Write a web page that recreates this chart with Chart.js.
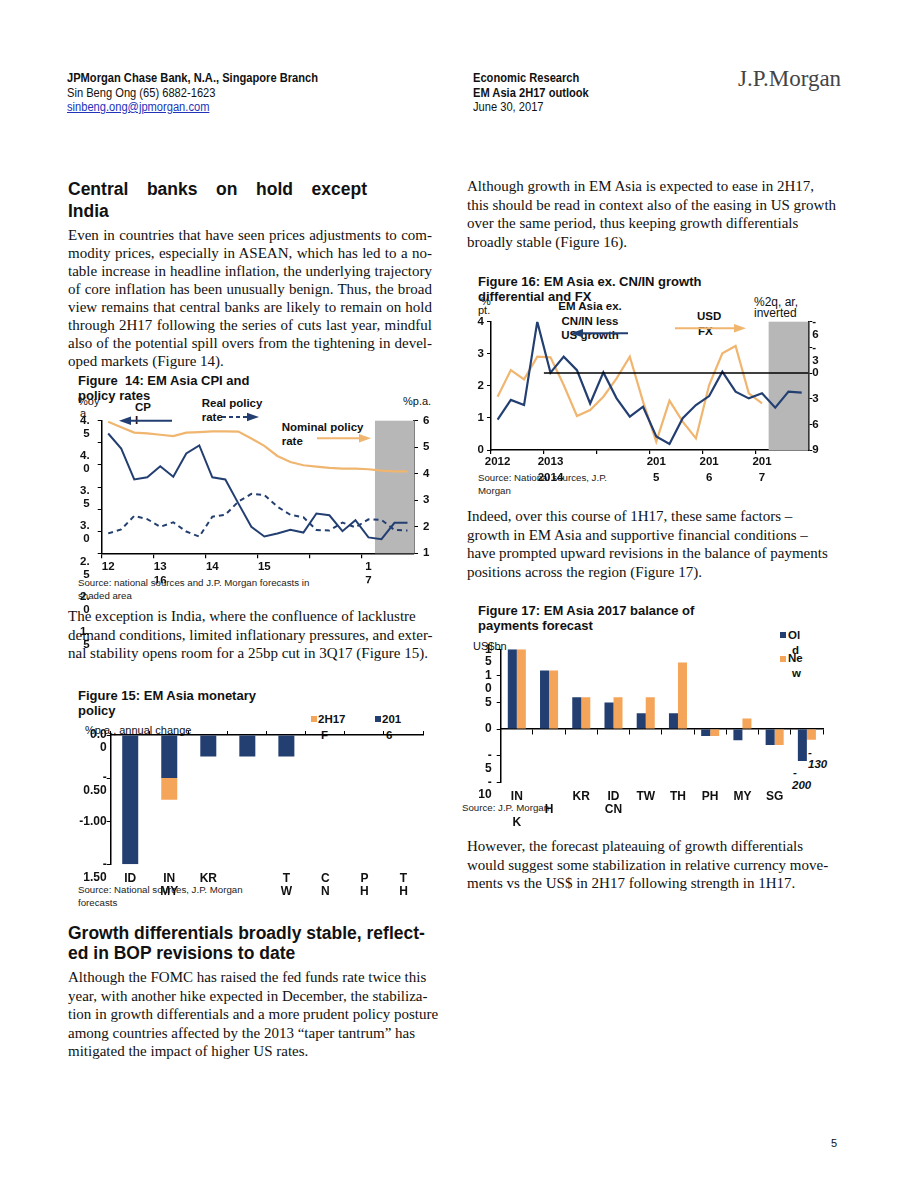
<!DOCTYPE html>
<html><head><meta charset="utf-8">
<script src="https://cdn.jsdelivr.net/npm/chart.js@4.4.1/dist/chart.umd.min.js"></script>
<style>
html,body{margin:0;padding:0;background:#fff;}
body{width:920px;height:1191px;position:relative;overflow:hidden;color:#111;}
.t{position:absolute;white-space:nowrap;}
.hd{font-family:"Liberation Sans",Arial,sans-serif;font-size:12.5px;line-height:14px;transform:scaleX(0.89);transform-origin:0 0;}
.b{font-weight:bold;}
.serif{font-family:"Liberation Serif","Times New Roman",serif;font-size:15px;line-height:18px;}
.j{text-align:justify;text-align-last:justify;width:364px;}
.h{font-family:"Liberation Sans",Arial,sans-serif;font-weight:bold;font-size:17.5px;line-height:20px;}
.ft{font-family:"Liberation Sans",Arial,sans-serif;font-weight:bold;font-size:13px;line-height:15px;}
.src{font-family:"Liberation Sans",Arial,sans-serif;font-size:9.7px;line-height:12px;color:#222;}
.lb{font-family:"Liberation Sans",Arial,sans-serif;font-weight:bold;font-size:11.5px;line-height:13px;}
.sm{font-family:"Liberation Sans",Arial,sans-serif;font-size:11px;line-height:13px;}
.sq{position:absolute;width:6px;height:6px;}
canvas{position:absolute;}
</style></head><body>

<!-- header -->
<div class="t hd b" style="left:67px;top:71px;">JPMorgan Chase Bank, N.A., Singapore Branch</div>
<div class="t hd" style="left:67px;top:86px;">Sin Beng Ong (65) 6882-1623</div>
<div class="t hd" style="left:67px;top:100px;color:#2233bb;text-decoration:underline;">sinbeng.ong@jpmorgan.com</div>
<div class="t hd b" style="left:473px;top:71px;">Economic Research</div>
<div class="t hd b" style="left:473px;top:86px;">EM Asia 2H17 outlook</div>
<div class="t hd" style="left:473px;top:100px;">June 30, 2017</div>
<div class="t" style="left:738px;top:66px;font-family:'Liberation Serif',serif;font-size:23px;line-height:26px;color:#444;">J.P.Morgan</div>

<!-- left column -->
<div class="t h" style="left:68px;top:178.5px;width:299px;text-align:justify;text-align-last:justify;">Central banks on hold except</div>
<div class="t h" style="left:68px;top:200.5px;">India</div>
<div class="t serif j" style="left:68px;top:226px;">Even in countries that have seen prices adjustments to com-</div>
<div class="t serif j" style="left:68px;top:244px;">modity prices, especially in ASEAN, which has led to a no-</div>
<div class="t serif j" style="left:68px;top:262px;">table increase in headline inflation, the underlying trajectory</div>
<div class="t serif j" style="left:68px;top:280px;">of core inflation has been unusually benign. Thus, the broad</div>
<div class="t serif j" style="left:68px;top:298px;">view remains that central banks are likely to remain on hold</div>
<div class="t serif j" style="left:68px;top:316px;">through 2H17 following the series of cuts last year, mindful</div>
<div class="t serif j" style="left:68px;top:334px;">also of the potential spill overs from the tightening in devel-</div>
<div class="t serif" style="left:68px;top:352px;">oped markets (Figure 14).</div>

<div class="t ft" style="left:78px;top:373px;">Figure&nbsp; 14: EM Asia CPI and</div>
<div class="t ft" style="left:78px;top:388px;">policy rates</div>
<div class="t sm" style="left:78px;top:395px;">%oy</div>
<div class="t sm" style="left:80px;top:407px;">a</div>
<div class="t lb" style="left:135px;top:400.5px;">CP</div>
<div class="t lb" style="left:135px;top:413.5px;">I</div>
<div class="t lb" style="left:201.7px;top:396.5px;">Real policy</div>
<div class="t lb" style="left:201.7px;top:410.5px;">rate</div>
<div class="t lb" style="left:281.7px;top:420.5px;">Nominal policy</div>
<div class="t lb" style="left:281.7px;top:434.5px;">rate</div>
<div class="t sm" style="left:403px;top:394.5px;">%p.a.</div>
<div class="t src" style="left:78px;top:576.5px;">Source: national sources and J.P. Morgan forecasts in</div>
<div class="t src" style="left:78px;top:589.5px;">shaded area</div>

<div class="t serif" style="left:68px;top:607px;">The exception is India, where the confluence of lacklustre</div>
<div class="t serif" style="left:68px;top:625.5px;">demand conditions, limited inflationary pressures, and exter-</div>
<div class="t serif" style="left:68px;top:644px;">nal stability opens room for a 25bp cut in 3Q17 (Figure 15).</div>

<div class="t ft" style="left:78px;top:688px;">Figure 15: EM Asia monetary</div>
<div class="t ft" style="left:78px;top:703px;">policy</div>
<div class="t sm" style="left:85px;top:723.5px;">%p.a., annual change</div>
<div class="sq" style="left:311px;top:716px;background:#f4a55a;"></div>
<div class="t lb" style="left:318px;top:712.5px;">2H17</div>
<div class="t lb" style="left:321px;top:728.5px;">F</div>
<div class="sq" style="left:375px;top:716px;background:#233f72;"></div>
<div class="t lb" style="left:382px;top:712.5px;">201</div>
<div class="t lb" style="left:386px;top:728.5px;">6</div>
<div class="t src" style="left:78px;top:883.5px;">Source: National sources, J.P. Morgan</div>
<div class="t src" style="left:78px;top:896.5px;">forecasts</div>

<div class="t h" style="left:68px;top:922.5px;">Growth differentials broadly stable, reflect-</div>
<div class="t h" style="left:68px;top:942.5px;">ed in BOP revisions to date</div>
<div class="t serif" style="left:68px;top:968px;">Although the FOMC has raised the fed funds rate twice this</div>
<div class="t serif" style="left:68px;top:986.5px;">year, with another hike expected in December, the stabiliza-</div>
<div class="t serif" style="left:68px;top:1005px;">tion in growth differentials and a more prudent policy posture</div>
<div class="t serif" style="left:68px;top:1023.5px;">among countries affected by the 2013 “taper tantrum” has</div>
<div class="t serif" style="left:68px;top:1042px;">mitigated the impact of higher US rates.</div>

<!-- right column -->
<div class="t serif" style="left:467px;top:177px;">Although growth in EM Asia is expected to ease in 2H17,</div>
<div class="t serif" style="left:467px;top:195.5px;">this should be read in context also of the easing in US growth</div>
<div class="t serif" style="left:467px;top:214px;">over the same period, thus keeping growth differentials</div>
<div class="t serif" style="left:467px;top:232.5px;">broadly stable (Figure 16).</div>

<div class="t ft" style="left:478px;top:274px;">Figure 16: EM Asia ex. CN/IN growth</div>
<div class="t ft" style="left:478px;top:289px;">differential and FX</div>
<div class="t sm" style="left:481px;top:294.5px;">%</div>
<div class="t sm" style="left:478px;top:304px;">pt.</div>
<div class="t lb" style="left:540px;top:299.5px;width:100px;text-align:center;">EM Asia ex.</div>
<div class="t lb" style="left:540px;top:315px;width:100px;text-align:center;">CN/IN less</div>
<div class="t lb" style="left:540px;top:328.5px;width:100px;text-align:center;">US growth</div>
<div class="t lb" style="left:697px;top:310px;">USD</div>
<div class="t lb" style="left:698px;top:325px;">FX</div>
<div class="t" style="left:754px;top:294.7px;font-family:'Liberation Sans',Arial,sans-serif;font-size:12px;line-height:14px;">%2q, ar,</div>
<div class="t" style="left:754px;top:306px;font-family:'Liberation Sans',Arial,sans-serif;font-size:12px;line-height:14px;">inverted</div>
<div class="t src" style="left:478px;top:471.5px;">Source: National sources, J.P.</div>
<div class="t src" style="left:478px;top:484.5px;">Morgan</div>

<div class="t serif" style="left:467px;top:507px;">Indeed, over this course of 1H17, these same factors –</div>
<div class="t serif" style="left:467px;top:525.5px;">growth in EM Asia and supportive financial conditions –</div>
<div class="t serif" style="left:467px;top:544px;">have prompted upward revisions in the balance of payments</div>
<div class="t serif" style="left:467px;top:562.5px;">positions across the region (Figure 17).</div>

<div class="t ft" style="left:478px;top:603px;">Figure 17: EM Asia 2017 balance of</div>
<div class="t ft" style="left:478px;top:618px;">payments forecast</div>
<div class="t sm" style="left:473px;top:639.5px;">US$bn</div>
<div class="sq" style="left:780px;top:632px;background:#233f72;"></div>
<div class="t lb" style="left:788px;top:628.5px;">Ol</div>
<div class="t lb" style="left:792px;top:643.5px;">d</div>
<div class="sq" style="left:780px;top:656px;background:#f4a55a;"></div>
<div class="t lb" style="left:788px;top:651.5px;">Ne</div>
<div class="t lb" style="left:792px;top:666.5px;">w</div>
<div class="t lb" style="left:808px;top:745.5px;font-style:italic;">-</div>
<div class="t lb" style="left:808px;top:757.5px;font-style:italic;">130</div>
<div class="t lb" style="left:793px;top:765.5px;font-style:italic;">-</div>
<div class="t lb" style="left:792px;top:778.5px;font-style:italic;">200</div>
<div class="t src" style="left:462px;top:801.5px;">Source: J.P. Morgan</div>

<div class="t serif" style="left:467px;top:837px;">However, the forecast plateauing of growth differentials</div>
<div class="t serif" style="left:467px;top:855.5px;">would suggest some stabilization in relative currency move-</div>
<div class="t serif" style="left:467px;top:874px;">ments vs the US$ in 2H17 following strength in 1H17.</div>

<div class="t sm" style="left:831px;top:1136.5px;">5</div>

<canvas id="c14" width="370" height="250" style="left:70px;top:400px;width:370px;height:250px;"></canvas>
<canvas id="c15" width="360" height="180" style="left:70px;top:725px;width:360px;height:180px;"></canvas>
<canvas id="c16" width="375" height="200" style="left:465px;top:300px;width:375px;height:200px;"></canvas>
<canvas id="c17" width="370" height="200" style="left:460px;top:640px;width:370px;height:200px;"></canvas>

<svg width="920" height="1191" style="position:absolute;left:0;top:0;pointer-events:none;">
  <line x1="128" y1="420.7" x2="172" y2="420.7" stroke="#233f72" stroke-width="2"/>
  <polygon points="119,420.7 131,416.5 131,424.9" fill="#233f72"/>
  <line x1="222" y1="417" x2="249" y2="417" stroke="#233f72" stroke-width="2" stroke-dasharray="4 3"/>
  <polygon points="259,417 247,412.8 247,421.2" fill="#233f72"/>
  <line x1="317" y1="438.3" x2="360" y2="438.3" stroke="#f0b56f" stroke-width="2"/>
  <polygon points="371,438.3 359,434 359,442.6" fill="#f0b56f"/>
  <line x1="580" y1="333.3" x2="628" y2="333.3" stroke="#233f72" stroke-width="2"/>
  <polygon points="571,333.3 583,329 583,337.6" fill="#233f72"/>
  <line x1="675" y1="328.3" x2="735" y2="328.3" stroke="#f0b56f" stroke-width="2"/>
  <polygon points="746,328.3 734,324 734,332.6" fill="#f0b56f"/>
</svg>

<script>
// ---------- data ----------
const quarters = ['1Q12','2Q12','3Q12','4Q12','1Q13','2Q13','3Q13','4Q13','1Q14','2Q14','3Q14','4Q14',
                  '1Q15','2Q15','3Q15','4Q15','1Q16','2Q16','3Q16','4Q16','1Q17','2Q17','3Q17','4Q17'];

// Figure 14
const f14XTicks = ['12','','','',['13','16'],'','','','14','','','','15','','','','','','','',['1','7'],'','',''];
const f14LeftTicks = [['4.','5'],['4.','0'],['3.','5'],['3.','0'],['2.','5'],['2.','0'],['1.','5']];
const f14Cpi = [4.21,3.87,3.17,3.22,3.47,3.23,3.76,3.94,3.22,3.17,2.63,2.10,1.88,1.95,2.03,1.97,2.40,2.36,2.00,2.25,1.86,1.82,2.19,2.19];
const f14Real = [1.75,1.90,2.41,2.29,2.00,2.17,1.82,1.63,2.38,2.45,2.95,3.24,3.20,2.76,2.45,2.36,1.88,1.86,2.16,1.98,2.28,2.26,1.88,1.86];
const f14Nominal = [5.96,5.75,5.55,5.52,5.47,5.42,5.55,5.57,5.60,5.60,5.59,5.33,5.05,4.67,4.44,4.32,4.27,4.22,4.19,4.19,4.17,4.12,4.09,4.09];
const f14ForecastFrom = '2Q17';

// Figure 15
const f15Labels = ['ID',['IN','MY'],'KR','',['T','W'],['C','N'],['P','H'],['T','H']];
const f15Y2016 = [-1.50,-0.50,-0.25,-0.25,-0.25,0,0,0];
const f15H2H17F = [0,-0.25,0,0,0,0,0,0];
const f15YTicks = [['0.0','0'],['-','0.50'],['-1.00',''],['-','1.50']];

// Figure 16
const f16XTicks = ['2012','','','',['2013','2014'],'','','','','','','',['201','5'],'','','',['201','6'],'','','',['201','7'],'','',''];
const f16Growth = [0.95,1.56,1.40,4.00,2.41,2.91,2.49,1.45,2.42,1.61,1.04,1.35,0.42,0.19,0.99,1.40,1.68,2.44,1.82,1.61,1.77,1.32,1.82,1.79];
const f16Fx = [2.77,-0.35,0.74,-1.91,-1.83,1.40,5.03,4.32,2.77,0.62,-1.91,3.35,8.03,3.23,5.69,7.64,1.40,-2.30,-3.16,2.38,3.55,null,null,null];
const f16RightValues = [-6,-3,0,3,6,9];
const f16RightTicks = [['-','6'],['-','3'],['0',''],['3',''],['6',''],['9','']];
const f16ForecastFrom = '2Q17';
const f16ZeroFrom = '1Q13';

// Figure 17
const f17Labels = [['IN','','K'],['','H'],'KR',['ID','CN'],'TW','TH','PH','MY','SG',''];
const f17Old = [15,11,6,5,3,3,-1.3,-2.1,-3,-6];
const f17New = [15,11,6,6,6,12.5,-1.3,2,-3,-2];
const f17YValues = [-10,-5,0,5,10,15];
const f17YTicks = [['-','10'],['-','5'],['0',''],['5',''],['1','0'],['1','5']];

// ---------- style ----------
const navy = '#233f72', orange = '#f4a55a', tan = '#f0b56f', shade = '#b7b7b7';
const FONT = '"Liberation Sans", Arial, sans-serif';
Chart.defaults.font.family = FONT;
Chart.defaults.color = '#111';
Chart.defaults.animation = false;

const fixSize = (size) => (s) => {
  if (s.isHorizontal()) s.height = size; else s.width = size;
  s.paddingTop = 0; s.paddingBottom = 0; s.paddingLeft = 0; s.paddingRight = 0;
};
const yearTick = (c) => (c.index % 4 === 0 ? '#000' : 'rgba(0,0,0,0)');

const shadePlugin = {
  id: 'shade',
  beforeDatasetsDraw(chart, args, opts) {
    if (!opts || opts.from === undefined) return;
    const x = chart.scales.x, ca = chart.chartArea, ctx = chart.ctx;
    const idx = chart.data.labels.indexOf(opts.from);
    const left = x.getPixelForValue(idx - 0.5);
    ctx.save();
    ctx.fillStyle = opts.color;
    ctx.fillRect(left, ca.top, ca.right - left, ca.bottom - ca.top);
    ctx.restore();
  }
};

const refLinePlugin = {
  id: 'refLine',
  afterDatasetsDraw(chart, args, opts) {
    if (!opts || opts.from === undefined) return;
    const x = chart.scales.x, y = chart.scales[opts.axis], ca = chart.chartArea, ctx = chart.ctx;
    const idx = chart.data.labels.indexOf(opts.from);
    const left = x.getPixelForValue(idx - 0.5);
    const py = y.getPixelForValue(opts.value);
    ctx.save();
    ctx.strokeStyle = '#000'; ctx.lineWidth = 1.3;
    ctx.beginPath(); ctx.moveTo(left, py); ctx.lineTo(ca.right, py); ctx.stroke();
    ctx.restore();
  }
};

const stackedLeftPlugin = {
  id: 'stackedLeft',
  afterDraw(chart, args, opts) {
    if (!opts || !opts.pitch) return;
    const s = chart.scales.y, ctx = chart.ctx;
    const ticks = s.ticks.slice().sort((a, b) => b.value - a.value);
    ctx.save();
    ctx.font = 'bold 11.5px ' + FONT;
    ctx.fillStyle = '#111'; ctx.textAlign = 'right'; ctx.textBaseline = 'middle';
    ticks.forEach((t, i) => {
      const lab = opts.labels[i];
      lab.forEach((line, k) => ctx.fillText(line, chart.chartArea.left - opts.gap, chart.chartArea.top + i * opts.pitch + k * opts.lineGap));
    });
    ctx.restore();
  }
};

const axisLine = { color: '#000', width: 1.5 };

// ---------- Figure 14 ----------
new Chart(document.getElementById('c14'), {
  type: 'line',
  data: {
    labels: quarters,
    datasets: [
      { label: 'CPI', data: f14Cpi, yAxisID: 'y', borderColor: navy, borderWidth: 2, pointRadius: 0, tension: 0 },
      { label: 'Real policy rate', data: f14Real, yAxisID: 'y1', borderColor: navy, borderWidth: 2, borderDash: [5, 4], pointRadius: 0 },
      { label: 'Nominal policy rate', data: f14Nominal, yAxisID: 'y1', borderColor: tan, borderWidth: 2.2, pointRadius: 0 }
    ]
  },
  options: {
    responsive: false, devicePixelRatio: 1, animation: false,
    layout: { padding: { top: 20.7, bottom: 66.7, left: 0, right: 0 } },
    plugins: {
      legend: { display: false }, tooltip: { enabled: false },
      shade: { from: f14ForecastFrom, color: shade },
      stackedLeft: { pitch: 35.2, lineGap: 13, gap: 12, labels: f14LeftTicks }
    },
    scales: {
      x: {
        type: 'category', offset: true, afterFit: fixSize(30),
        grid: { offset: true, drawOnChartArea: false, drawTicks: true, tickLength: 5, color: yearTick, tickColor: yearTick, lineWidth: 1.2 },
        border: axisLine,
        ticks: { autoSkip: false, maxRotation: 0, minRotation: 0, padding: 2, font: { weight: 'bold', size: 11.5, lineHeight: 1.2 }, color: '#111', callback: (v, i) => f14XTicks[i] }
      },
      y: {
        position: 'left', min: 1.5, max: 4.5, afterFit: fixSize(31.7),
        ticks: { stepSize: 0.5, display: false, autoSkip: false },
        grid: { drawOnChartArea: false, tickLength: 4, color: '#000' }, border: axisLine
      },
      y1: {
        position: 'right', min: 1, max: 6, afterFit: fixSize(26),
        ticks: { stepSize: 1, autoSkip: false, padding: 5, font: { weight: 'bold', size: 11.5 }, color: '#111' },
        grid: { drawOnChartArea: false, tickLength: 4, color: '#000' }, border: axisLine
      }
    }
  },
  plugins: [shadePlugin, stackedLeftPlugin]
});

// ---------- Figure 15 ----------
new Chart(document.getElementById('c15'), {
  type: 'bar',
  data: {
    labels: f15Labels,
    datasets: [
      { label: '2016', data: f15Y2016, backgroundColor: navy, xAxisID: 'x', yAxisID: 'y', stack: 's' },
      { label: '2H17F', data: f15H2H17F, backgroundColor: orange, xAxisID: 'x', yAxisID: 'y', stack: 's' }
    ]
  },
  options: {
    responsive: false, devicePixelRatio: 1, animation: false,
    layout: { padding: { top: 6, right: 7, bottom: 0, left: 0 } },
    datasets: { bar: { barPercentage: 0.41, categoryPercentage: 1 } },
    plugins: { legend: { display: false }, tooltip: { enabled: false } },
    scales: {
      x: {
        stacked: true, position: 'bottom', afterFit: fixSize(40.7),
        grid: { display: false, drawTicks: false }, border: { display: false },
        ticks: { autoSkip: false, maxRotation: 0, padding: 8, font: { weight: 'bold', size: 12, lineHeight: 1.08 }, color: '#111' }
      },
      xTop: {
        type: 'category', position: 'top', offset: true, afterFit: fixSize(4),
        grid: { offset: true, drawOnChartArea: false, tickLength: 4, color: '#000' },
        border: axisLine, ticks: { display: false }
      },
      y: {
        stacked: true, min: -1.5, max: 0, afterFit: fixSize(40.7),
        ticks: { stepSize: 0.5, autoSkip: false, padding: 0, labelOffset: 6.5, font: { weight: 'bold', size: 12, lineHeight: 1.08 }, color: '#111',
                 callback: (v, i, t) => f15YTicks[t.length - 1 - i] },
        grid: { drawOnChartArea: false, tickLength: 4, color: '#000' }, border: axisLine
      }
    }
  }
});

// ---------- Figure 16 ----------
new Chart(document.getElementById('c16'), {
  type: 'line',
  data: {
    labels: quarters,
    datasets: [
      { label: 'EM Asia ex. CN/IN less US growth', data: f16Growth, yAxisID: 'y', borderColor: navy, borderWidth: 2.2, pointRadius: 0 },
      { label: 'USD FX', data: f16Fx, yAxisID: 'y1', borderColor: tan, borderWidth: 2.2, pointRadius: 0 }
    ]
  },
  options: {
    responsive: false, devicePixelRatio: 1, animation: false,
    layout: { padding: { top: 21.7, bottom: 0, left: 0, right: 0 } },
    plugins: {
      legend: { display: false }, tooltip: { enabled: false },
      shade: { from: f16ForecastFrom, color: shade },
      refLine: { from: f16ZeroFrom, axis: 'y1', value: 0 }
    },
    scales: {
      x: {
        type: 'category', offset: true, afterFit: fixSize(50),
        grid: { offset: true, drawOnChartArea: false, drawTicks: true, tickLength: 4, color: yearTick, tickColor: yearTick, lineWidth: 1.2 },
        border: axisLine,
        ticks: { autoSkip: false, maxRotation: 0, minRotation: 0, padding: 0, font: { weight: 'bold', size: 11.5, lineHeight: 1.39 }, color: '#111', callback: (v, i) => f16XTicks[i] }
      },
      y: {
        position: 'left', min: 0, max: 4, afterFit: fixSize(26),
        ticks: { stepSize: 1, autoSkip: false, padding: 3, font: { weight: 'bold', size: 11.5 }, color: '#111' },
        grid: { drawOnChartArea: false, tickLength: 4, color: '#000' }, border: axisLine
      },
      y1: {
        position: 'right', min: -6, max: 9, reverse: true, afterFit: fixSize(31.7),
        ticks: { stepSize: 3, autoSkip: false, padding: 0, labelOffset: 6.5, font: { weight: 'bold', size: 11.5, lineHeight: 1.13 }, color: '#111',
                 callback: (v) => f16RightTicks[f16RightValues.indexOf(v)] },
        grid: { drawOnChartArea: false, tickLength: 4, color: '#000' }, border: axisLine
      }
    }
  },
  plugins: [shadePlugin, refLinePlugin]
});

// ---------- Figure 17 ----------
new Chart(document.getElementById('c17'), {
  type: 'bar',
  data: {
    labels: f17Labels,
    datasets: [
      { label: 'Old', data: f17Old, backgroundColor: navy, xAxisID: 'x', yAxisID: 'y' },
      { label: 'New', data: f17New, backgroundColor: orange, xAxisID: 'x', yAxisID: 'y' }
    ]
  },
  options: {
    responsive: false, devicePixelRatio: 1, animation: false,
    layout: { padding: { top: 9.3, right: 7, bottom: 0, left: 0 } },
    datasets: { bar: { barPercentage: 1, categoryPercentage: 0.56 } },
    plugins: { legend: { display: false }, tooltip: { enabled: false } },
    scales: {
      x: {
        position: 'bottom', afterFit: fixSize(57.7),
        grid: { display: false, drawTicks: false }, border: { display: false },
        ticks: { autoSkip: false, maxRotation: 0, padding: 8, font: { weight: 'bold', size: 12, lineHeight: 1.08 }, color: '#111' }
      },
      xz: {
        type: 'category', position: { y: 0 }, offset: true,
        grid: { offset: true, drawOnChartArea: false, tickLength: 5, color: '#000' },
        border: axisLine, ticks: { display: false }
      },
      y: {
        min: -10, max: 15, afterFit: fixSize(40.7),
        ticks: { stepSize: 5, autoSkip: false, padding: 5, labelOffset: 6.3, font: { weight: 'bold', size: 12, lineHeight: 1.05 }, color: '#111',
                 callback: (v) => f17YTicks[f17YValues.indexOf(v)] },
        grid: { drawOnChartArea: false, tickLength: 4, color: '#000' }, border: axisLine
      }
    }
  }
});
</script>
</body></html>
